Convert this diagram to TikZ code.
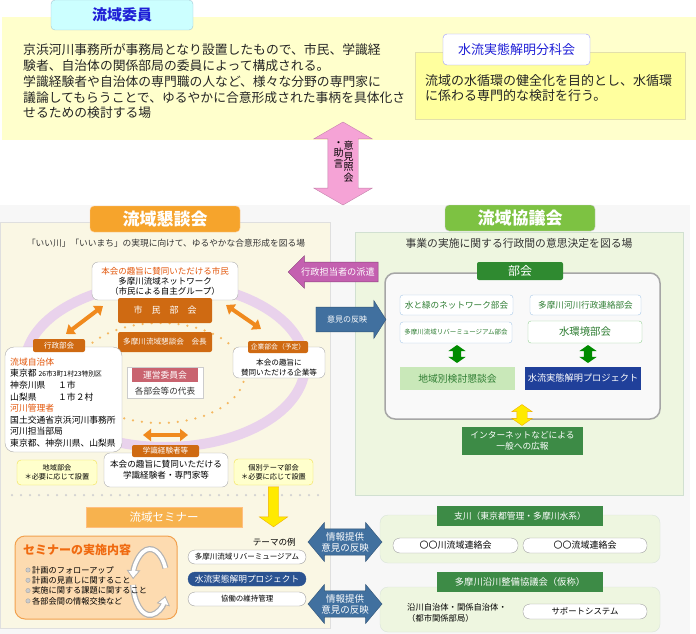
\documentclass[tikz,border=0pt]{standalone}
\usepackage{fontspec}
\setmainfont{Noto Sans CJK JP}
\usepackage{xcolor}
\usepackage{tikz}
\usetikzlibrary{positioning}
\usetikzlibrary{shapes.arrows,arrows.meta}

\definecolor{topyellow}{HTML}{FFFFCC}
\definecolor{inneryellow}{HTML}{FFFF9E}
\definecolor{cyantab}{HTML}{CCFFFF}
\definecolor{titleblue}{HTML}{1F1FD6}
\definecolor{pinkarrow}{HTML}{F5A3D6}
\definecolor{cream}{HTML}{FAF7E4}
\definecolor{orangetab}{HTML}{F6A42C}
\definecolor{ringpurple}{HTML}{E9D2EC}
\definecolor{darkorange}{HTML}{CF6A12}
\definecolor{orangetext}{HTML}{E3560A}
\definecolor{dotorange}{HTML}{F5B860}
\definecolor{redtag}{HTML}{C9636F}
\definecolor{yellowline}{HTML}{F2E14C}
\definecolor{seminarfill}{HTML}{FDDBB0}
\definecolor{seminarline}{HTML}{F2A14E}
\definecolor{seminartitle}{HTML}{F06A10}
\definecolor{seminartab}{HTML}{F7B24E}
\definecolor{bluepill}{HTML}{2B5391}
\definecolor{magentaarrow}{HTML}{C460B0}
\definecolor{steelblue}{HTML}{41709F}
\definecolor{greenpanel}{HTML}{EEF6E0}
\definecolor{greentab}{HTML}{7DC242}
\definecolor{darkgreen}{HTML}{2F8A30}
\definecolor{greentext}{HTML}{2E7D32}
\definecolor{lightgreen}{HTML}{C9E8B9}
\definecolor{navy}{HTML}{20409A}
\definecolor{boxgreen}{HTML}{3D8B46}
\definecolor{paleblue}{HTML}{A8C8E8}
\definecolor{yellowarrow}{HTML}{FFEA00}
\definecolor{arrowedge}{HTML}{F0B000}
\definecolor{orangearrow}{HTML}{F08A1E}

\begin{document}
\begin{tikzpicture}[
  x=1pt, y=-1pt,
  every node/.style={inner sep=0pt, align=center},
  boxsize/.style 2 args={minimum width=#1pt, minimum height=#2pt},
  tabbox/.style={rectangle, rounded corners=4pt},
  whitebox/.style={rectangle, draw=gray!65, fill=white, rounded corners=6pt},
  orangebox/.style={rectangle, fill=darkorange, rounded corners=2pt, text=white},
  notebox/.style={rectangle, draw=yellowline, fill=topyellow, rounded corners=4pt},
  pill/.style={rectangle, draw=gray!75, fill=white, rounded corners=7pt},
  bukaibox/.style={rectangle, draw=paleblue, fill=white, rounded corners=3pt, text=greentext},
  greentag/.style={rectangle, fill=boxgreen, text=white},
  bluearrow/.style={fill=steelblue, draw=steelblue!75!black, text=white},
  yellowtip/.style={fill=yellowarrow, draw=arrowedge},
  orangedbl/.style={draw=orangearrow, line width=4pt,
    {Triangle[width=12pt,length=8pt]}-{Triangle[width=12pt,length=8pt]}},
  cycleedge/.style={draw=gray!60, line width=6pt, -{Triangle[width=13pt,length=9pt]}},
  cyclearrow/.style={draw=white, line width=3.6pt, shorten >=1.6pt, -{Triangle[width=9.5pt,length=6.5pt]}},
  dotline/.style={line width=2.5pt, line cap=round, dash pattern=on 0pt off 9pt}
]

\useasboundingbox (0,0) rectangle (696,634);
\fill[gray!6] (0,205) rectangle (690,634);

% 流域委員
\node[rectangle, fill=topyellow, boxsize={694}{123}] (iinkai) at (349,78.5) {};
\node[tabbox, draw=cyan!40!gray!60, fill=cyantab, boxsize={142}{30}, text=titleblue,
  font=\fontsize{15}{18}\selectfont\bfseries] (iinkaitab) at (122,15) {流域委員};
\node[anchor=west, align=left, font=\fontsize{12.8}{15.8}\selectfont, text=black!85] (iinkaitext) at (23,81.5)
{京浜河川事務所が事務局となり設置したもので、市民、学識経\\
験者、自治体の関係部局の委員によって構成される。\\
学識経験者や自治体の専門職の人など、様々な分野の専門家に\\
議論してもらうことで、ゆるやかに合意形成された事柄を具体化さ\\
せるための検討する場};

\node[rectangle, draw=yellow!50!gray!50, fill=inneryellow, boxsize={270}{67}] (bunkakai) at (550,85.5) {};
\node[tabbox, draw=blue!40, fill=white, boxsize={147}{31}, text=titleblue,
  font=\fontsize{13}{16}\selectfont] (bunkakaitab) at (516.5,49.5) {水流実態解明分科会};
\node[anchor=west, align=left, font=\fontsize{13}{15}\selectfont, text=black!85] (bunkakaitext) at (425,88.5)
{流域の水循環の健全化を目的とし、水循環\\
に係わる専門的な検討を行う。};

\node[double arrow, rotate=90, fill=pinkarrow, draw=pinkarrow!80!black, minimum height=83pt,
  inner xsep=0pt, inner ysep=15pt, double arrow head extend=14pt, double arrow tip angle=120] (shokai) at (343,163.5) {};
\node[anchor=north, font=\fontsize{10}{10.5}\selectfont] (shokaitext) at (348.5,141) {意\\見\\照\\会};
\node[anchor=north, font=\fontsize{10}{10.5}\selectfont] (jogentext) at (338.5,141) {・\\助\\言};

% 流域懇談会
\node[rectangle, draw=gray!25, fill=cream, boxsize={330}{406}] (kondankai) at (165,425) {};
\node[tabbox, draw=orange!40, fill=orangetab, boxsize={150}{26}, text=white,
  font=\fontsize{17}{20}\selectfont\bfseries] (kondankaitab) at (165,219) {流域懇談会};
\node[font=\fontsize{8.7}{10}\selectfont, text=black!80] (kondankaisub) at (166,243)
{「いい川」「いいまち」の実現に向けて、ゆるやかな合意形成を図る場};

\draw[ringpurple, line width=10pt] (165,365) ellipse [x radius=140, y radius=82];
\draw[dotorange, dotline] (160,373) ellipse [x radius=85, y radius=50];

\node[whitebox, boxsize={146}{38}, font=\fontsize{8.5}{10}\selectfont] (shimin) at (165,281)
{\textcolor{orangetext}{本会の趣旨に賛同いただける市民}\\多摩川流域ネットワーク\\（市民による自主グループ）};
\node[orangebox, boxsize={94}{25}, font=\fontsize{9}{11}\selectfont] (shiminbukai) at (165,310.5) {市　民　部　会};
\node[orangebox, boxsize={94}{20}, font=\fontsize{7.6}{9}\selectfont] (kaicho) at (165,342) {多摩川流域懇談会　会長};
\node[rectangle, draw=gray!40, fill=white, boxsize={76}{31}] (unei) at (165,382.5) {};
\node[rectangle, fill=redtag, boxsize={66}{14}, text=white, font=\fontsize{8.8}{10}\selectfont] (uneitag) at (165,375) {運営委員会};
\node[font=\fontsize{8.6}{10}\selectfont, text=black!80] (uneitext) at (165,391) {各部会等の代表};

\node[whitebox, rounded corners=9pt, boxsize={117}{105}] (gyosei) at (63.5,399.5) {};
\node[orangebox, boxsize={52}{13}, font=\fontsize{7.5}{9}\selectfont] (gyoseitag) at (59,345.5) {行政部会};
\node[anchor=west, align=left, font=\fontsize{8.8}{11.6}\selectfont] (gyoseitext) at (10,402.5)
{\textcolor{orangetext}{流域自治体}\\
東京都 {\fontsize{6.8}{11.6}\selectfont 26市3町1村23特別区}\\
\makebox[48pt][l]{神奈川県}１市\\
\makebox[48pt][l]{山梨県}１市２村\\
\textcolor{orangetext}{河川管理者}\\
国土交通省京浜河川事務所\\
河川担当部局\\
東京都、神奈川県、山梨県};

\node[whitebox, boxsize={92}{31}] (kigyo) at (279,362.5) {};
\node[orangebox, boxsize={60}{12}, font=\fontsize{6.8}{8}\selectfont] (kigyotag) at (278,347) {企業部会（予定）};
\node[font=\fontsize{7.6}{9.5}\selectfont] (kigyotext) at (279,367.5) {本会の趣旨に\\賛同いただける企業等};

\coordinate (shiminL) at (103,306);
\coordinate (gyoseiT) at (66,334);
\coordinate (shiminR) at (226,305);
\coordinate (kigyoT) at (261,329);
\coordinate (gakuL) at (143,435);
\coordinate (gakuR) at (188,435);
\draw[orangedbl] (shiminL) -- (gyoseiT);
\draw[orangedbl] (shiminR) -- (kigyoT);
\draw[orangedbl] (gakuL) -- (gakuR);

\node[whitebox, boxsize={124}{34}, font=\fontsize{8.6}{11}\selectfont] (gakushiki) at (166,470)
{本会の趣旨に賛同いただける\\学識経験者・専門家等};
\node[orangebox, boxsize={67}{12}, font=\fontsize{7.6}{9}\selectfont] (gakushikitag) at (165.5,451) {学識経験者等};

\node[notebox, boxsize={80}{25}, font=\fontsize{7.2}{9}\selectfont] (chiiki) at (57,472.5) {地域部会\\＊必要に応じて設置};
\node[notebox, boxsize={79}{26}, font=\fontsize{7.2}{9}\selectfont] (kobetsu) at (273.5,472) {個別テーマ部会\\＊必要に応じて設置};

\draw[gray!35, dotline] (12,495) -- (318,495);

\node[single arrow, rotate=-90, yellowtip, minimum height=40pt, inner xsep=0pt, inner ysep=5pt,
  single arrow head extend=9pt, single arrow tip angle=110] (seminararrow) at (273.5,505) {};

\node[rectangle, fill=seminartab, draw=orange!50, boxsize={156}{20}, text=white,
  font=\fontsize{11.5}{14}\selectfont] (seminar) at (164,517) {流域セミナー};
\node[rectangle, rounded corners=10pt, fill=seminarfill, draw=seminarline, line width=1pt,
  boxsize={162}{83}] (seminarbox) at (96,577.5) {};
\node[anchor=west, text=seminartitle, font=\fontsize{12}{14}\selectfont\bfseries] (seminartitle) at (23,550) {セミナーの実施内容};
\draw[cycleedge] (165.4,568.1) arc[start angle=-25, end angle=-175, x radius=17, y radius=33];
\draw[cyclearrow] (165.4,568.1) arc[start angle=-25, end angle=-175, x radius=17, y radius=33];
\draw[cycleedge] (133.1,584.9) arc[start angle=175, end angle=25, x radius=17, y radius=33];
\draw[cyclearrow] (133.1,584.9) arc[start angle=175, end angle=25, x radius=17, y radius=33];
\foreach \txt [count=\i] in {計画のフォローアップ, 計画の見直しに関すること, 実施に関する課題に関すること, 各部会間の情報交換など}
{
  \filldraw[fill=gray!40, draw=gray!70] (28,{559.7+10.3*\i}) circle[radius=2.2pt];
  \node[anchor=west, font=\fontsize{8.2}{10}\selectfont] (item\i) at (32,{559.7+10.3*\i}) {\txt};
}

\node[anchor=east, font=\fontsize{8.6}{10}\selectfont] (themerei) at (296,542) {テーマの例};
\node[pill, boxsize={118}{14}, font=\fontsize{7.5}{9}\selectfont] (theme1) at (247,557) {多摩川流域リバーミュージアム};
\node[pill, fill=bluepill, draw=bluepill, text=white, boxsize={118}{14},
  font=\fontsize{8.7}{10}\selectfont] (theme2) at (247,579) {水流実態解明プロジェクト};
\node[pill, boxsize={118}{14}, font=\fontsize{7.5}{9}\selectfont] (theme3) at (247,599) {協働の維持管理};

% 流域協議会
\node[rectangle, draw=green!20!gray!30, fill=greenpanel, boxsize={328}{263}] (kyogikai) at (519,363.5) {};
\node[tabbox, draw=gray!40, fill=greentab, boxsize={150}{26}, text=white,
  font=\fontsize{17}{20}\selectfont\bfseries] (kyogikaitab) at (520,218) {流域協議会};
\node[font=\fontsize{10.8}{12}\selectfont, text=black!80] (kyogikaisub) at (519,243) {事業の実施に関する行政間の意思決定を図る場};
\node[rectangle, rounded corners=10pt, draw=gray!70, line width=1.5pt, fill=gray!5, boxsize={275}{146}] (bukai) at (522.5,346) {};
\node[rectangle, rounded corners=2pt, fill=darkgreen, boxsize={86}{18}, text=white,
  font=\fontsize{12}{14}\selectfont] (bukaitab) at (520,271) {部会};
\node[bukaibox, boxsize={113}{20}, font=\fontsize{8.6}{10}\selectfont] (mizumidori) at (456.5,305) {水と緑のネットワーク部会};
\node[bukaibox, boxsize={111}{20}, font=\fontsize{8.6}{10}\selectfont] (renraku) at (585.5,305) {多摩川河川行政連絡部会};
\node[bukaibox, boxsize={112}{21}, font=\fontsize{6.5}{8}\selectfont] (rivermuseum) at (456,332.5) {多摩川流域リバーミュージアム部会};
\node[bukaibox, draw=green!40!gray!60, boxsize={114}{22}, font=\fontsize{10.4}{12}\selectfont] (mizukankyo) at (585,332) {水環境部会};
\node[double arrow, rotate=90, fill=green!55!black, minimum height=18pt, inner xsep=0pt, inner ysep=4pt,
  double arrow head extend=4.5pt, double arrow tip angle=110] (midoriarrow) at (457,354) {};
\node[double arrow, rotate=90, fill=green!55!black, minimum height=18pt, inner xsep=0pt, inner ysep=4pt,
  double arrow head extend=4.5pt, double arrow tip angle=110] (kankyoarrow) at (588,354) {};
\node[rectangle, fill=lightgreen, boxsize={115}{23}, text=greentext, font=\fontsize{9.8}{12}\selectfont] (chiikibetsu) at (457.5,378.5) {地域別検討懇談会};
\node[rectangle, fill=navy, boxsize={116}{23}, text=white, font=\fontsize{9.2}{11}\selectfont] (project) at (583,378.5) {水流実態解明プロジェクト};
\node[double arrow, rotate=90, yellowtip, minimum height=21pt, inner xsep=0pt, inner ysep=5pt,
  double arrow head extend=5pt, double arrow tip angle=110] (kohoarrow) at (522,415) {};
\node[greentag, boxsize={121}{28}, font=\fontsize{8.7}{10.5}\selectfont] (internet) at (522.5,441) {インターネットなどによる\\一般への広報};

% 支川・沿川
\node[rectangle, rounded corners=8pt, fill=greenpanel, draw=green!15!gray!25, boxsize={280}{48}] (shisen) at (520,539) {};
\node[greentag, boxsize={166}{20}, font=\fontsize{8.8}{10}\selectfont] (shisentab) at (520,516) {支川（東京都管理・多摩川水系）};
\node[pill, boxsize={125}{15}, font=\fontsize{9}{10}\selectfont] (renrakuA) at (455.5,545.5) {〇〇川流域連絡会};
\node[pill, boxsize={124}{15}, font=\fontsize{9}{10}\selectfont] (renrakuB) at (585,545.5) {〇〇流域連絡会};
\node[rectangle, rounded corners=8pt, fill=greenpanel, draw=green!15!gray!25, boxsize={280}{45}] (engawa) at (520,609.5) {};
\node[greentag, boxsize={166}{20}, font=\fontsize{9.3}{10}\selectfont] (engawatab) at (520,582) {多摩川沿川整備協議会（仮称）};
\node[anchor=west, align=left, font=\fontsize{8.3}{10.5}\selectfont] (engawatext) at (407,613) {沿川自治体・関係自治体・\\（都市関係部局）};
\node[pill, boxsize={124}{15}, font=\fontsize{8.4}{10}\selectfont] (support) at (585,611.5) {サポートシステム};

% arrows between the two councils
\node[single arrow, shape border rotate=180, fill=magentaarrow, draw=magentaarrow!70!black, text=white,
  font=\fontsize{9.2}{11}\selectfont, minimum height=90pt, inner xsep=3pt, inner ysep=5.4pt,
  single arrow head extend=6.5pt] (haken) at (338,272) {行政担当者の派遣};
\node[single arrow, bluearrow, font=\fontsize{8}{10}\selectfont, minimum height=70pt, inner xsep=3pt,
  inner ysep=8.5pt, single arrow head extend=6.5pt, single arrow tip angle=115] (hanei) at (347,319.5) {意見の反映};
\node[double arrow, bluearrow, font=\fontsize{9.5}{11}\selectfont, minimum height=74pt, inner xsep=2pt,
  inner ysep=3pt, double arrow head extend=6.5pt, double arrow tip angle=100] (info1) at (345,542) {情報提供\\意見の反映};
\node[double arrow, bluearrow, font=\fontsize{9.5}{11}\selectfont, minimum height=74pt, inner xsep=2pt,
  inner ysep=3pt, double arrow head extend=6.5pt, double arrow tip angle=100] (info2) at (345,604) {情報提供\\意見の反映};

\end{tikzpicture}
\end{document}
